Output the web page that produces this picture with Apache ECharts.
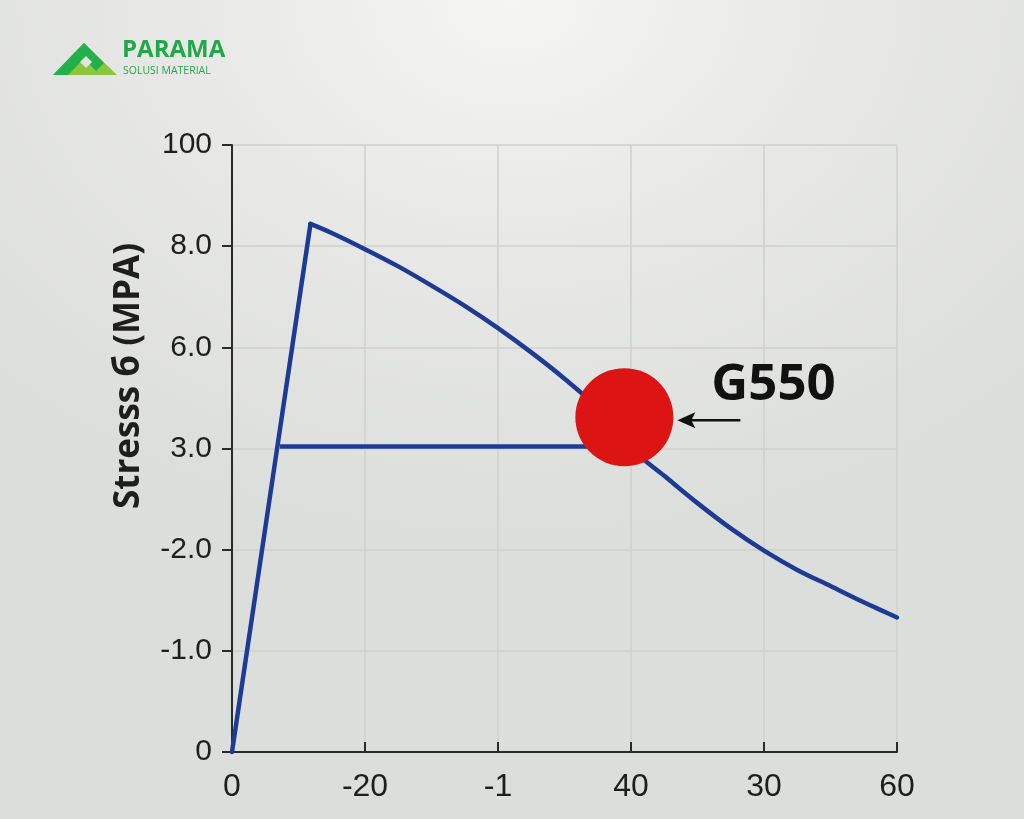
<!DOCTYPE html>
<html>
<head>
<meta charset="utf-8">
<script src="https://cdn.jsdelivr.net/npm/echarts@6/dist/echarts.min.js"></script>
<style>
html,body{margin:0;padding:0;width:1024px;height:819px;overflow:hidden;
background:radial-gradient(ellipse 720px 540px at 512px 0px,#f5f6f3 0%,#e8e9e6 45%,#dcdedb 100%);}
#c{width:1024px;height:819px;}
</style>
</head>
<body>
<div id="c"></div>
<script>
// Tick labels (as printed on the chart, evenly spaced)
const xTickLabels = ['0', '-20', '-1', '40', '30', '60'];
const yTickLabels = ['0', '-1.0', '-2.0', '3.0', '6.0', '8.0', '100'];

// Rising (elastic) segment, in tick-slot units
const riseX = [0, 0.59];
const riseY = [0, 5.22];

// Descending curve after the peak
const curveX = [0.59, 0.75, 1.0, 1.25, 1.5, 1.75, 2.0, 2.25, 2.5, 2.75, 3.0, 3.25, 3.5, 3.75, 4.0, 4.25, 4.5, 4.75, 5.0];
const curveY = [5.22, 5.13, 4.97, 4.80, 4.61, 4.41, 4.19, 3.95, 3.69, 3.40, 3.00, 2.73, 2.46, 2.21, 1.99, 1.80, 1.64, 1.48, 1.33];

// Horizontal plateau line
const plateauX = [0.36, 2.68];
const plateauY = [3.02, 3.02];

// Highlighted point
const markerLabel = 'G550';
const markerX = [2.95];
const markerY = [3.31];

const chart = echarts.init(document.getElementById('c'), null, {renderer: 'canvas'});
const tickFont = {fontFamily: 'Liberation Sans, Arial, sans-serif', color: '#1e1e1e'};
const blue = '#1d3a94';

const option = {
  backgroundColor: 'transparent',
  animation: false,
  grid: {left: 232, right: 127, top: 145, bottom: 67, containLabel: false},
  xAxis: {
    type: 'value', min: 0, max: 5, interval: 1,
    axisLine: {show: true, lineStyle: {color: '#2a2a2a', width: 2}},
    axisTick: {show: true, inside: true, length: 10, lineStyle: {color: '#2a2a2a', width: 2}},
    axisLabel: Object.assign({margin: 19, fontSize: 32, formatter: v => xTickLabels[Math.round(v)] ?? ''}, tickFont),
    splitLine: {show: true, lineStyle: {color: '#cfd1ce', width: 1.5}}
  },
  yAxis: {
    type: 'value', min: 0, max: 6, interval: 1,
    axisLine: {show: true, lineStyle: {color: '#2a2a2a', width: 2}},
    axisTick: {show: true, length: 10, lineStyle: {color: '#2a2a2a', width: 2}},
    axisLabel: Object.assign({margin: 20, fontSize: 30, formatter: v => yTickLabels[Math.round(v)] ?? ''}, tickFont),
    splitLine: {show: true, lineStyle: {color: '#cfd1ce', width: 1.5}}
  },
  series: [
    {
      type: 'line', symbol: 'none',
      data: riseX.map((x, i) => [x, riseY[i]]),
      lineStyle: {color: blue, width: 4.5, cap: 'round'}
    },
    {
      type: 'line', smooth: 0.3, symbol: 'none',
      data: curveX.map((x, i) => [x, curveY[i]]),
      lineStyle: {color: blue, width: 4.5, cap: 'round'}
    },
    {
      type: 'line', symbol: 'none',
      data: plateauX.map((x, i) => [x, plateauY[i]]),
      lineStyle: {color: blue, width: 4.5}
    },
    {
      type: 'scatter', symbol: 'circle', symbolSize: 98,
      data: markerX.map((x, i) => [x, markerY[i]]),
      itemStyle: {color: '#dc1414', opacity: 1},
      z: 5
    }
  ]
};
chart.setOption(option);

// annotation positioned relative to the marker
const p = chart.convertToPixel({gridIndex: 0}, [markerX[0], markerY[0]]);
const r = 49;
const bg = '#e2e4e1';
chart.setOption({
  graphic: [
    // logo icon
    {type: 'polygon', shape: {points: [[53,75],[84,43],[117,75]]}, style: {fill: '#8cc63f'}},
    {type: 'polygon', shape: {points: [[53,75],[76,51],[84,59],[68,75]]}, style: {fill: '#22b04b'}},
    {type: 'polygon', shape: {points: [[84,43],[96,55],[88,63],[76,51]]}, style: {fill: '#22b04b'}},
    {type: 'polygon', shape: {points: [[96,55],[104,63],[96,71],[88,63]]}, style: {fill: '#22b04b'}},
    {type: 'polygon', shape: {points: [[84,59],[92,67],[84,75],[76,67]]}, style: {fill: '#8cc63f'}},
    {type: 'polygon', shape: {points: [[86,56],[92,62],[86,68],[80,62]]}, style: {fill: bg}},
    {type: 'text', left: 122, top: 38, style: {text: 'PARAMA', fill: '#22a84a', font: 'bold 24px "Open Sans", sans-serif'}},
    {type: 'text', left: 123, top: 66, style: {text: 'SOLUSI MATERIAL', fill: '#22a84a', font: '10.5px "Open Sans", sans-serif'}},
    // y axis title
    {type: 'text', x: 129, y: 376, rotation: Math.PI / 2, style: {text: 'Stresss б (MPA)', fill: '#1e1e1e',
      font: 'bold 35px "Open Sans", sans-serif', align: 'center', verticalAlign: 'middle'}},
    // arrow
    {type: 'line', shape: {x1: p[0] + r + 14, y1: p[1] + 3, x2: p[0] + r + 67, y2: p[1] + 3},
      style: {stroke: '#111', lineWidth: 2.5}},
    {type: 'polygon', shape: {points: [[p[0] + r + 4, p[1] + 3], [p[0] + r + 22, p[1] - 5], [p[0] + r + 18, p[1] + 3], [p[0] + r + 22, p[1] + 11]]},
      style: {fill: '#111'}},
    // label
    {type: 'text', x: p[0] + r + 38, y: p[1] - 32, style: {text: markerLabel, fill: '#111',
      font: 'bold 51px "Open Sans", sans-serif', align: 'left', verticalAlign: 'middle'}}
  ]
});
</script>
</body>
</html>
